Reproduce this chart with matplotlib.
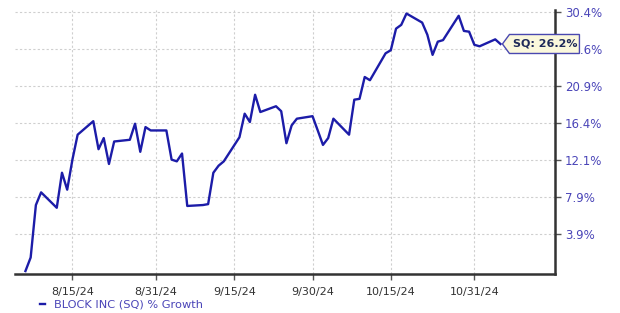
import numpy as np
import pandas as pd
import matplotlib
matplotlib.use("Agg")
import matplotlib.pyplot as plt
from matplotlib.patches import Polygon

# --- data (daily % growth of SQ) ---
dates = ["2024-08-06", "2024-08-07", "2024-08-08", "2024-08-09",
         "2024-08-12", "2024-08-13", "2024-08-14", "2024-08-15", "2024-08-16",
         "2024-08-19", "2024-08-20", "2024-08-21", "2024-08-22", "2024-08-23",
         "2024-08-26", "2024-08-27", "2024-08-28", "2024-08-29", "2024-08-30",
         "2024-09-02", "2024-09-03", "2024-09-04", "2024-09-05", "2024-09-06",
         "2024-09-09", "2024-09-10", "2024-09-11", "2024-09-12", "2024-09-13",
         "2024-09-16", "2024-09-17", "2024-09-18", "2024-09-19", "2024-09-20",
         "2024-09-23", "2024-09-24", "2024-09-25", "2024-09-26", "2024-09-27",
         "2024-09-30", "2024-10-01", "2024-10-02", "2024-10-03", "2024-10-04",
         "2024-10-07", "2024-10-08", "2024-10-09", "2024-10-10", "2024-10-11",
         "2024-10-14", "2024-10-15", "2024-10-16", "2024-10-17", "2024-10-18",
         "2024-10-21", "2024-10-22", "2024-10-23", "2024-10-24", "2024-10-25",
         "2024-10-28", "2024-10-29", "2024-10-30", "2024-10-31", "2024-11-01",
         "2024-11-04", "2024-11-05"]
growth = [0.0, 1.4, 7.0, 8.4,
          6.7, 10.6, 8.7, 12.1, 15.0,
          16.6, 13.3, 14.6, 11.6, 14.2,
          14.4, 16.3, 13.0, 15.9, 15.5,
          15.5, 12.1, 11.9, 12.8, 6.9,
          7.0, 7.1, 10.6, 11.4, 11.9,
          14.7, 17.5, 16.5, 19.8, 17.7,
          18.4, 17.8, 14.0, 16.1, 16.9,
          17.2, 15.5, 13.8, 14.6, 16.9,
          15.0, 19.2, 19.3, 22.0, 21.6,
          25.0, 25.4, 28.2, 28.7, 30.2,
          29.0, 27.4, 24.8, 26.5, 26.7,
          29.9, 27.9, 27.8, 26.1, 25.9,
          26.8, 26.2]

y_ticks = [3.9, 7.9, 12.1, 16.4, 20.9, 25.6, 30.4]
x_ticks = ["2024-08-15", "2024-08-31", "2024-09-15", "2024-09-30", "2024-10-15", "2024-10-31"]
x_labels = ["8/15/24", "8/31/24", "9/15/24", "9/30/24", "10/15/24", "10/31/24"]
series_name = "BLOCK INC (SQ) % Growth"
tag_text = "SQ: 26.2%"

LINE_COLOR = "#1c1ca8"
LABEL_COLOR = "#4a45b8"
GRID_COLOR = "#cfcfcf"

x = pd.to_datetime(dates)
y = np.log1p(np.array(growth) / 100.0)   # chart uses a log-growth axis

fig = plt.figure(figsize=(6.2, 3.13), dpi=100)
ax = fig.add_axes([0.0242, 0.1246, 0.8710, 0.8434])

ax.plot(x, y, color=LINE_COLOR, linewidth=1.7, label=series_name, zorder=3)

ax.set_xlim(pd.Timestamp("2024-08-04"), pd.Timestamp("2024-11-15 11:00"))
ax.set_ylim(np.log1p(-0.003), np.log1p(0.3067))

ax.set_xticks(pd.to_datetime(x_ticks))
ax.set_xticklabels(x_labels)
ax.set_yticks(np.log1p(np.array(y_ticks) / 100.0))
ax.set_yticklabels([f"{v}%" for v in y_ticks])
ax.yaxis.tick_right()

ax.tick_params(axis="x", direction="out", length=4, width=1, colors="#555555",
               labelcolor="#333333", labelsize=8, pad=5)
ax.tick_params(axis="y", direction="out", length=4, width=1, colors="#555555",
               labelcolor=LABEL_COLOR, labelsize=8.5, pad=3)

for side in ["left", "top"]:
    ax.spines[side].set_visible(False)
for side in ["right", "bottom"]:
    ax.spines[side].set_linewidth(1.8)
    ax.spines[side].set_color("#333333")

ax.grid(True, color=GRID_COLOR, linestyle=(0, (2, 2)), linewidth=0.8)
ax.set_axisbelow(True)

leg = ax.legend(loc="center left", bbox_to_anchor=(0.065, 0.027), bbox_transform=fig.transFigure,
                frameon=False, handlelength=0.4, handletextpad=0.8, fontsize=8.2,
                borderpad=0, borderaxespad=0)
for t in leg.get_texts():
    t.set_color(LABEL_COLOR)

# tag at the last point
fig.canvas.draw()
px, py = ax.transData.transform((matplotlib.dates.date2num(x[-1]), y[-1]))
px += 2
h = 9.5
tag = Polygon([(px, py), (px + 7, py + h), (px + 77, py + h), (px + 77, py - h), (px + 7, py - h)],
              closed=True, transform=None, facecolor="#fbf8dc", edgecolor="#4a48b0",
              linewidth=1.0, zorder=5, clip_on=False)
fig.add_artist(tag)
fig.text((px + 43) / fig.bbox.width, py / fig.bbox.height, tag_text, ha="center", va="center",
         fontsize=8, fontweight="bold", color="#1f2a5a", zorder=6)

fig.savefig("out.png", dpi=100)
